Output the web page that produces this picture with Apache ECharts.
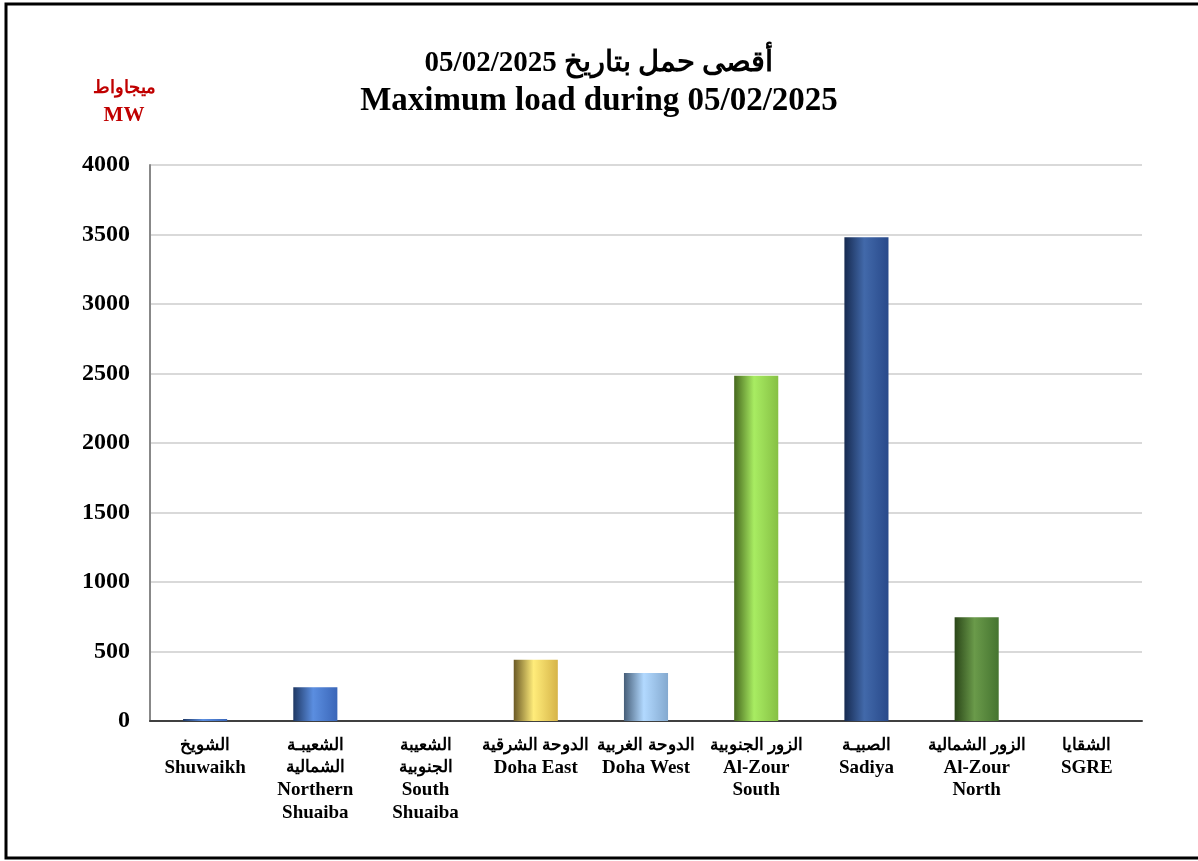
<!DOCTYPE html>
<html>
<head>
<meta charset="utf-8">
<style>
  html, body { margin: 0; padding: 0; background: #fff; }
  #chart { width: 1198px; height: 861px; }
</style>
<script src="https://cdn.jsdelivr.net/npm/echarts@6/dist/echarts.min.js"></script>
</head>
<body>
<div id="chart"></div>
<script>
const categories = [
  'الشويخ\nShuwaikh',
  'الشعيبـة\nالشمالية\nNorthern\nShuaiba',
  'الشعيبة\nالجنوبية\nSouth\nShuaiba',
  'الدوحة الشرقية\nDoha East',
  'الدوحة الغربية\nDoha West',
  'الزور الجنوبية\nAl-Zour\nSouth',
  'الصبيـة\nSadiya',
  'الزور الشمالية\nAl-Zour\nNorth',
  'الشقايا\nSGRE'
];
const loadMW = [15, 242, 0, 440, 345, 2484, 3480, 746, 0];
const yTicks = [0, 500, 1000, 1500, 2000, 2500, 3000, 3500, 4000];

// cylinder shading per bar: [edge, highlight, right]
const shades = [
  ['#1f3864', '#5b8ee0', '#3a66b8'],
  ['#1f3864', '#5b8ee0', '#3a66b8'],
  ['#1f3864', '#5b8ee0', '#3a66b8'],
  ['#6b5a26', '#ffec7a', '#d6b448'],
  ['#465e78', '#b2d9ff', '#84a9cf'],
  ['#46681e', '#a8ec62', '#86c044'],
  ['#162a50', '#4269aa', '#28498a'],
  ['#2a4618', '#6a9a4a', '#457430'],
  ['#2a4618', '#6a9a4a', '#457430']
];

const serif = '"Liberation Serif", "Times New Roman", "DejaVu Serif", serif';
const isArabic = s => /[\u0600-\u06FF]/.test(s);

const chart = echarts.init(document.getElementById('chart'));

chart.setOption({
  animation: false,
  title: [
    {
      text: 'أقصى حمل بتاريخ 05/02/2025',
      left: 'center',
      top: 44,
      textStyle: { fontFamily: serif, fontWeight: 'bold', fontSize: 29, color: '#000' }
    },
    {
      text: 'Maximum load during 05/02/2025',
      left: 'center',
      top: 80,
      textStyle: { fontFamily: serif, fontWeight: 'bold', fontSize: 33, color: '#000' }
    },
    {
      text: '{ar|ميجاواط}\n{en|MW}',
      left: 119,
      top: 70,
      textAlign: 'center',
      textStyle: {
        rich: {
          ar: { fontFamily: serif, fontWeight: 'bold', fontSize: 18, color: '#c00000', lineHeight: 27, align: 'center' },
          en: { fontFamily: serif, fontWeight: 'bold', fontSize: 21, color: '#c00000', lineHeight: 27, align: 'center' }
        }
      }
    }
  ],
  graphic: [
    {
      type: 'rect',
      shape: { x: 6, y: 4, width: 1300, height: 854 },
      style: { fill: 'none', stroke: '#000', lineWidth: 3 },
      silent: true
    }
  ],
  grid: { left: 150, right: 56, top: 165, bottom: 140 },
  xAxis: {
    type: 'category',
    data: categories,
    axisTick: { show: false },
    axisLine: { lineStyle: { color: '#404040', width: 2 } },
    axisLabel: {
      interval: 0,
      margin: 13,
      formatter: v => v.split('\n').map(l => (isArabic(l) ? '{ar|' : '{en|') + l + '}').join('\n'),
      rich: {
        ar: { fontFamily: serif, fontWeight: 'bold', fontSize: 17, lineHeight: 22.5, color: '#000' },
        en: { fontFamily: serif, fontWeight: 'bold', fontSize: 19, lineHeight: 22.5, color: '#000' }
      }
    }
  },
  yAxis: {
    type: 'value',
    min: yTicks[0],
    max: yTicks[yTicks.length - 1],
    interval: 500,
    axisLine: { show: true, lineStyle: { color: '#888', width: 2 } },
    axisTick: { show: false },
    splitLine: { lineStyle: { color: '#d9d9d9', width: 2 } },
    axisLabel: {
      margin: 20,
      formatter: v => String(v),
      fontFamily: serif,
      fontWeight: 'bold',
      fontSize: 24,
      color: '#000'
    }
  },
  series: [
    {
      type: 'bar',
      barWidth: '40%',
      data: loadMW.map((v, i) => ({
        value: v,
        itemStyle: {
          color: new echarts.graphic.LinearGradient(0, 0, 1, 0, [
            { offset: 0, color: shades[i][0] },
            { offset: 0.45, color: shades[i][1] },
            { offset: 1, color: shades[i][2] }
          ])
        }
      }))
    }
  ]
});
</script>
</body>
</html>
